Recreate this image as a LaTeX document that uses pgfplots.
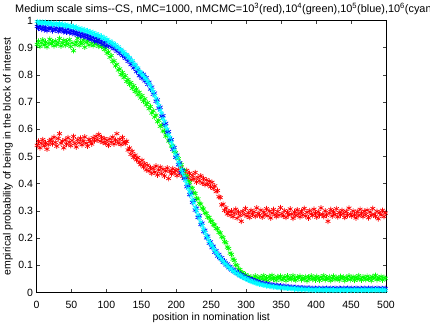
\documentclass[border=0pt]{standalone}
\usepackage{fontspec}
\setmainfont{Liberation Sans}
\usepackage{pgfplots}
\usepackage{pgfplotstable}
\pgfplotsset{compat=1.18}
\definecolor{mred}{RGB}{255,0,0}
\definecolor{mgreen}{RGB}{0,255,0}
\definecolor{mblue}{RGB}{0,0,255}
\definecolor{mcyan}{RGB}{0,255,255}

% position, then nMCMC = 1e3 (r), 1e4 (g), 1e5 (b), 1e6 (c)
\pgfplotstableread{
x r g b c
1 0.541 0.912 0.978 0.996
3 0.556 0.924 0.971 0.991
5 0.532 0.905 0.980 0.995
7 0.548 0.918 0.968 0.989
9 0.562 0.929 0.975 0.994
11 0.539 0.910 0.966 0.990
13 0.551 0.921 0.977 0.993
15 0.527 0.903 0.963 0.987
17 0.544 0.916 0.972 0.992
19 0.558 0.931 0.969 0.988
21 0.563 0.914 0.974 0.991
23 0.547 0.922 0.962 0.985
25 0.571 0.907 0.970 0.989
27 0.552 0.925 0.965 0.986
29 0.538 0.911 0.973 0.990
31 0.566 0.919 0.960 0.983
33 0.584 0.934 0.969 0.988
35 0.549 0.906 0.963 0.984
37 0.557 0.917 0.971 0.987
39 0.532 0.927 0.958 0.981
41 0.561 0.909 0.966 0.985
43 0.545 0.923 0.957 0.979
45 0.569 0.913 0.968 0.983
47 0.553 0.930 0.955 0.977
49 0.540 0.904 0.963 0.981
51 0.559 0.918 0.952 0.975
53 0.574 0.889 0.962 0.978
55 0.548 0.911 0.950 0.973
57 0.535 0.921 0.958 0.976
59 0.562 0.935 0.947 0.969
61 0.551 0.908 0.956 0.972
63 0.567 0.920 0.944 0.966
65 0.543 0.915 0.953 0.969
67 0.556 0.928 0.941 0.963
69 0.572 0.902 0.949 0.966
71 0.549 0.919 0.937 0.959
73 0.538 0.924 0.946 0.963
75 0.563 0.910 0.933 0.956
77 0.555 0.933 0.943 0.959
79 0.546 0.916 0.930 0.952
81 0.569 0.907 0.939 0.956
83 0.558 0.922 0.925 0.948
85 0.574 0.913 0.936 0.951
87 0.562 0.929 0.922 0.944
89 0.581 0.905 0.931 0.947
91 0.556 0.916 0.917 0.939
93 0.570 0.904 0.926 0.942
95 0.552 0.909 0.912 0.934
97 0.566 0.893 0.921 0.937
99 0.548 0.898 0.906 0.929
101 0.559 0.880 0.921 0.931
103 0.541 0.884 0.908 0.922
105 0.565 0.865 0.918 0.925
107 0.553 0.871 0.902 0.916
109 0.571 0.849 0.911 0.918
111 0.546 0.852 0.896 0.909
113 0.560 0.833 0.904 0.911
115 0.584 0.839 0.887 0.901
117 0.549 0.818 0.896 0.903
119 0.563 0.822 0.879 0.893
121 0.544 0.801 0.888 0.894
123 0.570 0.809 0.871 0.884
125 0.555 0.790 0.878 0.885
127 0.548 0.797 0.861 0.874
129 0.556 0.776 0.869 0.875
131 0.524 0.783 0.850 0.864
133 0.531 0.765 0.858 0.864
135 0.508 0.772 0.838 0.852
137 0.519 0.751 0.846 0.852
139 0.497 0.760 0.826 0.839
141 0.505 0.739 0.833 0.839
143 0.488 0.748 0.812 0.826
145 0.496 0.727 0.820 0.825
147 0.479 0.736 0.797 0.811
149 0.470 0.715 0.806 0.810
151 0.486 0.724 0.788 0.800
153 0.462 0.703 0.802 0.797
155 0.474 0.712 0.778 0.789
157 0.451 0.690 0.790 0.784
159 0.468 0.698 0.765 0.776
161 0.447 0.676 0.773 0.768
163 0.459 0.684 0.748 0.759
165 0.438 0.660 0.755 0.747
167 0.456 0.668 0.729 0.738
169 0.443 0.645 0.733 0.724
171 0.465 0.652 0.703 0.714
173 0.432 0.628 0.708 0.699
175 0.450 0.633 0.678 0.687
177 0.461 0.611 0.681 0.670
179 0.437 0.615 0.648 0.659
181 0.453 0.594 0.650 0.639
183 0.428 0.593 0.617 0.629
185 0.447 0.575 0.622 0.610
187 0.458 0.577 0.589 0.600
189 0.419 0.557 0.592 0.581
191 0.446 0.558 0.560 0.570
193 0.436 0.539 0.562 0.553
195 0.455 0.537 0.527 0.539
197 0.441 0.519 0.533 0.524
199 0.449 0.514 0.497 0.508
201 0.430 0.497 0.505 0.496
203 0.452 0.492 0.470 0.480
205 0.437 0.475 0.477 0.468
207 0.461 0.470 0.441 0.452
209 0.428 0.452 0.449 0.440
211 0.444 0.449 0.419 0.428
213 0.433 0.430 0.420 0.412
215 0.449 0.427 0.389 0.399
217 0.422 0.409 0.392 0.383
219 0.438 0.404 0.360 0.370
221 0.414 0.386 0.366 0.357
223 0.430 0.383 0.331 0.341
225 0.418 0.367 0.338 0.329
227 0.441 0.364 0.303 0.313
229 0.406 0.346 0.310 0.301
231 0.423 0.344 0.276 0.286
233 0.411 0.328 0.282 0.273
235 0.429 0.325 0.250 0.259
237 0.402 0.310 0.255 0.246
239 0.419 0.307 0.224 0.232
241 0.397 0.293 0.229 0.221
243 0.414 0.291 0.201 0.209
245 0.398 0.277 0.207 0.200
247 0.409 0.276 0.181 0.188
249 0.389 0.263 0.186 0.180
251 0.405 0.262 0.165 0.172
253 0.383 0.249 0.170 0.164
255 0.392 0.248 0.148 0.155
257 0.371 0.235 0.154 0.148
259 0.375 0.234 0.134 0.140
261 0.352 0.221 0.140 0.134
263 0.349 0.219 0.124 0.127
265 0.322 0.205 0.128 0.121
267 0.325 0.202 0.111 0.114
269 0.302 0.187 0.116 0.109
271 0.311 0.183 0.101 0.104
273 0.289 0.167 0.105 0.098
275 0.297 0.162 0.091 0.094
277 0.284 0.145 0.096 0.088
279 0.300 0.140 0.083 0.085
281 0.279 0.123 0.086 0.079
283 0.291 0.118 0.076 0.077
285 0.306 0.102 0.079 0.072
287 0.273 0.099 0.069 0.070
289 0.295 0.085 0.072 0.066
291 0.283 0.084 0.062 0.063
293 0.262 0.072 0.066 0.060
295 0.298 0.073 0.058 0.056
297 0.287 0.063 0.061 0.054
299 0.309 0.065 0.053 0.051
301 0.281 0.056 0.055 0.049
303 0.293 0.060 0.048 0.046
305 0.276 0.052 0.051 0.044
307 0.302 0.057 0.045 0.041
309 0.288 0.046 0.047 0.040
311 0.297 0.053 0.041 0.037
313 0.280 0.061 0.043 0.036
315 0.311 0.048 0.038 0.034
317 0.291 0.055 0.040 0.033
319 0.284 0.043 0.035 0.031
321 0.303 0.058 0.037 0.030
323 0.277 0.050 0.033 0.029
325 0.295 0.062 0.034 0.027
327 0.286 0.047 0.031 0.027
329 0.308 0.054 0.032 0.025
331 0.282 0.044 0.029 0.025
333 0.299 0.059 0.030 0.023
335 0.274 0.051 0.027 0.023
337 0.292 0.063 0.028 0.022
339 0.305 0.049 0.026 0.021
341 0.287 0.055 0.027 0.021
343 0.279 0.045 0.024 0.020
345 0.298 0.058 0.025 0.019
347 0.284 0.052 0.023 0.019
349 0.312 0.060 0.024 0.018
351 0.290 0.046 0.022 0.018
353 0.281 0.053 0.023 0.017
355 0.301 0.057 0.021 0.017
357 0.276 0.044 0.022 0.016
359 0.294 0.061 0.020 0.016
361 0.285 0.050 0.021 0.015
363 0.307 0.055 0.019 0.016
365 0.288 0.048 0.020 0.014
367 0.273 0.062 0.019 0.015
369 0.296 0.051 0.018 0.013
371 0.283 0.045 0.019 0.014
373 0.304 0.057 0.017 0.013
375 0.290 0.053 0.018 0.012
377 0.278 0.060 0.017 0.013
379 0.299 0.047 0.016 0.012
381 0.286 0.054 0.017 0.011
383 0.309 0.049 0.016 0.012
385 0.281 0.058 0.015 0.011
387 0.295 0.043 0.016 0.010
389 0.274 0.056 0.015 0.011
391 0.301 0.051 0.016 0.010
393 0.289 0.061 0.014 0.011
395 0.283 0.048 0.015 0.009
397 0.306 0.055 0.014 0.010
399 0.292 0.046 0.015 0.009
401 0.277 0.059 0.013 0.010
403 0.297 0.052 0.015 0.009
405 0.285 0.045 0.014 0.011
407 0.311 0.057 0.013 0.009
409 0.288 0.050 0.015 0.010
411 0.279 0.062 0.014 0.008
413 0.300 0.047 0.013 0.010
415 0.284 0.054 0.015 0.009
417 0.262 0.049 0.014 0.010
419 0.293 0.058 0.013 0.008
421 0.305 0.044 0.015 0.010
423 0.281 0.053 0.014 0.009
425 0.296 0.060 0.013 0.010
427 0.287 0.048 0.015 0.008
429 0.308 0.055 0.014 0.009
431 0.278 0.051 0.013 0.010
433 0.294 0.046 0.015 0.009
435 0.285 0.059 0.014 0.008
437 0.302 0.052 0.013 0.010
439 0.290 0.057 0.015 0.009
441 0.276 0.044 0.014 0.010
443 0.298 0.055 0.013 0.008
445 0.284 0.050 0.015 0.009
447 0.310 0.061 0.014 0.010
449 0.289 0.047 0.013 0.009
451 0.281 0.053 0.015 0.008
453 0.300 0.058 0.014 0.010
455 0.286 0.045 0.013 0.009
457 0.274 0.056 0.015 0.010
459 0.297 0.049 0.014 0.008
461 0.283 0.062 0.013 0.009
463 0.306 0.051 0.015 0.010
465 0.291 0.046 0.014 0.009
467 0.279 0.057 0.013 0.008
469 0.299 0.053 0.015 0.010
471 0.287 0.048 0.014 0.009
473 0.303 0.060 0.013 0.010
475 0.275 0.050 0.015 0.008
477 0.296 0.055 0.014 0.009
479 0.284 0.044 0.013 0.010
481 0.309 0.058 0.015 0.009
483 0.288 0.052 0.014 0.008
485 0.280 0.063 0.013 0.010
487 0.298 0.047 0.015 0.009
489 0.271 0.054 0.014 0.010
491 0.293 0.050 0.013 0.008
493 0.285 0.059 0.015 0.009
495 0.302 0.046 0.014 0.010
497 0.279 0.055 0.013 0.009
499 0.292 0.052 0.015 0.008
}\simdata

\begin{document}
\begin{tikzpicture}
\useasboundingbox (-36.5pt,-32.5pt) rectangle (393.5pt,292.5pt);
\begin{axis}[
    at={(0pt,0pt)}, anchor=south west,
    scale only axis, width=349.5pt, height=272pt,
    xmin=0, xmax=500, ymin=0, ymax=1,
    xtick={0,50,...,500},
    ytick={0,0.1,0.2,0.3,0.4,0.5,0.6,0.7,0.8,0.9,1},
    yticklabels={0,0.1,0.2,0.3,0.4,0.5,0.6,0.7,0.8,0.9,1},
    tick align=inside, major tick length=3.5pt,
    tick style={black!75, line width=0.5pt},
    axis line style={black, line width=0.6pt},
    /pgf/number format/assume math mode=true,
    ticklabel style={font=\fontsize{10.5}{12}\selectfont},
    xticklabel style={yshift=-5pt},
    label style={font=\fontsize{10.5}{12}\selectfont},
    xlabel={position in nomination list},
    xlabel style={at={(axis description cs:0.5,-0.092)}, anchor=center},
    ylabel={empirical probability of being in the block of interest},
    ylabel style={at={(axis description cs:-0.0815,0.5)}, anchor=center},
    title={Medium scale sims-{}-CS, nMC=1000, nMCMC=10\textsuperscript{3}(red),10\textsuperscript{4}(green),10\textsuperscript{5}(blue),10\textsuperscript{6}(cyan)},
    title style={at={(axis description cs:-0.0615,1.031)}, anchor=base west, yshift=-6pt, inner sep=0pt, font=\fontsize{10.9}{13}\selectfont},
    clip=false,
    every axis plot/.append style={only marks, mark=asterisk, mark size=2.8pt, line width=0.7pt},
]
\addplot[mred] table[x=x, y=r] {\simdata};
\addplot[mgreen] table[x=x, y=g] {\simdata};
\addplot[mblue] table[x=x, y=b] {\simdata};
\addplot[mcyan] table[x=x, y=c] {\simdata};
\end{axis}
\end{tikzpicture}
\end{document}
